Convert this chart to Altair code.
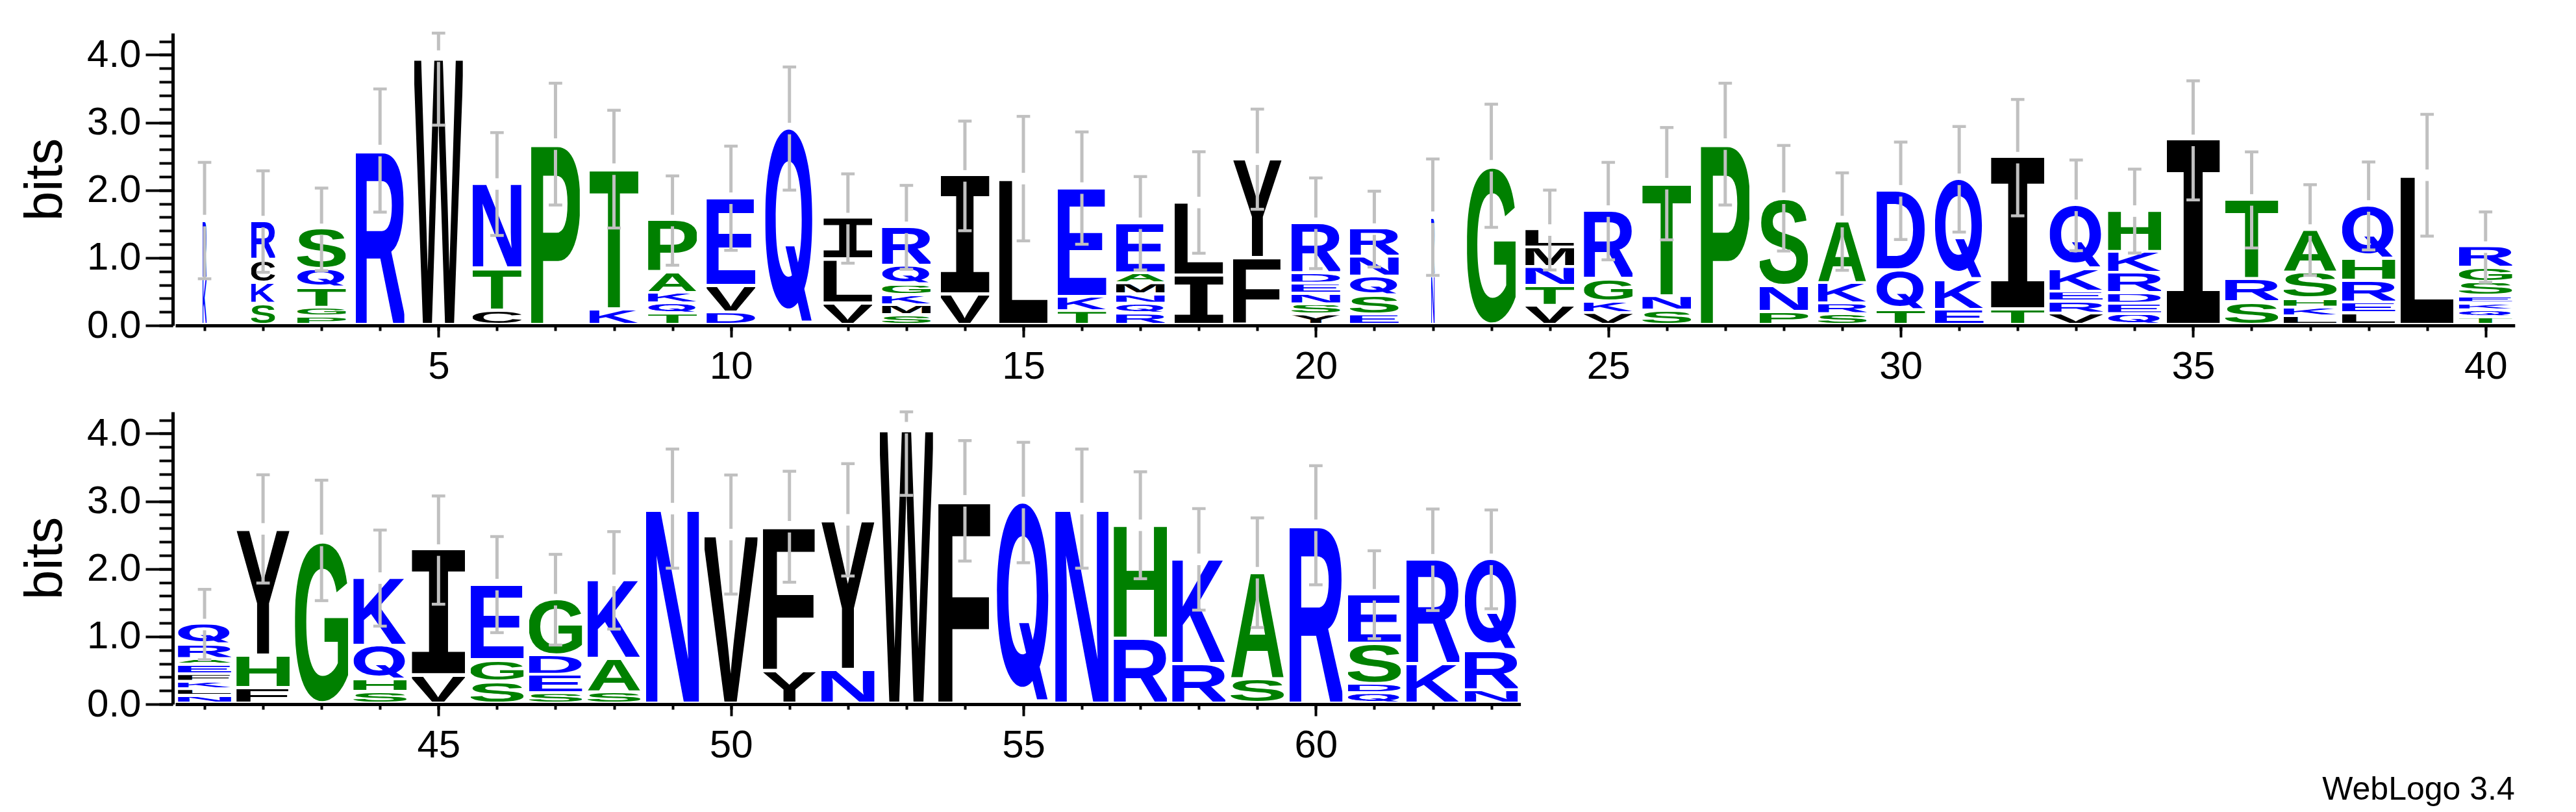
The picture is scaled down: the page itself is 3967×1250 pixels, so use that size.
import base64
import altair as alt
import pandas as pd

positions = list(range(1, 64))

# letters of each stack, bottom -> top
stack_letters = [
    "KR", "SKCR", "PGTQS", "R", "W", "CTN", "P", "KT", "TQKAP", "DVE",
    "Q", "VLI", "SMKGQR", "VI", "L", "TKE", "RQNMAE", "IL", "FY", "YSNEDR",
    "ESQNR", "NR", "G", "VTNML", "VKGR", "SNT", "P", "PNS", "SRKA", "TQD",
    "EKQ", "TI", "VREKQ", "QEDRKH", "I", "SRT", "LKHSA", "LERHQ", "L", "TQKESGR",
    "NLKFEARQ", "FHY", "G", "SHQK", "VI", "SGE", "SEDG", "SAK", "N", "V",
    "YF", "NY", "W", "F", "Q", "N", "RH", "RK", "SA", "R",
    "QDSE", "KR", "NRQ",
]

# information (bits) of each letter, bottom -> top
stack_heights = [
    [0.70, 0.85], [0.33, 0.31, 0.34, 0.555], [0.14, 0.13, 0.29, 0.28, 0.58], [2.585], [3.98],
    [0.23, 0.62, 1.24], [2.68], [0.25, 2.06], [0.18, 0.155, 0.155, 0.305, 0.755], [0.20, 0.39, 1.29],
    [2.91], [0.336, 0.649, 0.595], [0.16, 0.147, 0.148, 0.153, 0.282, 0.56], [0.47, 1.74], [2.17],
    [0.22, 0.21, 1.60], [0.18, 0.15, 0.14, 0.16, 0.15, 0.73], [0.745, 1.072], [1.006, 1.451],
    [0.17, 0.15, 0.156, 0.151, 0.153, 0.73],
    [0.17, 0.28, 0.28, 0.294, 0.40], [0.75, 0.85], [2.36], [0.30, 0.29, 0.28, 0.29, 0.25],
    [0.19, 0.17, 0.34, 0.99], [0.23, 0.21, 1.655], [2.68], [0.21, 0.38, 1.29],
    [0.176, 0.157, 0.302, 0.90], [0.232, 0.588, 1.17],
    [0.24, 0.44, 1.48], [0.248, 2.232], [0.184, 0.176, 0.147, 0.333, 0.935],
    [0.176, 0.154, 0.155, 0.302, 0.308, 0.595], [2.735], [0.355, 0.339, 1.161],
    [0.144, 0.128, 0.131, 0.384, 0.623], [0.187, 0.16, 0.32, 0.325, 0.774], [2.22],
    [0.128, 0.104, 0.107, 0.104, 0.205, 0.211, 0.299],
    [0.13, 0.098, 0.112, 0.11, 0.14, 0.085, 0.211, 0.291], [0.247, 0.481, 1.862], [2.42],
    [0.188, 0.184, 0.502, 0.989], [0.435, 1.842], [0.345, 0.314, 1.108], [0.17, 0.273, 0.287, 0.814],
    [0.183, 0.497, 1.15], [2.89], [2.507],
    [0.50, 2.122], [0.518, 2.206], [4.086], [3.005], [2.98], [2.89], [0.976, 1.668], [0.603, 1.537],
    [0.375, 1.568], [2.644],
    [0.17, 0.14, 0.593, 0.714], [0.60, 1.534], [0.215, 0.585, 1.34],
]

# half-length of the error bar of each stack (bits)
error_bars = [
    0.86, 0.75, 0.61, 0.91, 1.02, 0.76, 0.90, 0.87, 0.66, 0.77,
    0.91, 0.66, 0.62, 0.81, 0.92, 0.83, 0.69, 0.75, 0.74, 0.67,
    0.56, 0.86, 0.91, 0.59, 0.72, 0.83, 0.90, 0.78, 0.72, 0.72,
    0.78, 0.86, 0.67, 0.62, 0.88, 0.71, 0.67, 0.65, 0.90, 0.52,
    0.52, 0.80, 0.89, 0.71, 0.80, 0.71, 0.67, 0.72, 0.88, 0.88,
    0.82, 0.83, 1.00, 0.89, 0.89, 0.88, 0.79, 0.75, 0.81, 0.88,
    0.65, 0.75, 0.73,
]

# stack width (fraction of a column) = weight of non-gap symbols
column_weight = (
    [0.074, 0.41] + [0.83] * 19 + [0.065] + [0.83] * 9 + [0.907] * 9 + [0.907] * 23
)

top_positions = (1, 40)
bottom_positions = (41, 63)
x_labels_top = [5, 10, 15, 20, 25, 30, 35, 40]
x_labels_bottom = [45, 50, 55, 60]
y_labels = [0, 1, 2, 3, 4]
y_max = 4.32  # log2(20)
y_title = "bits"
footer = "WebLogo 3.4"

# ---------------- glyphs ----------------
BLUE, GREEN, BLACK = "#0000ff", "#008000", "#000000"


def letter_color(ch):
    if ch in "RKDENQ":
        return BLUE
    if ch in "SGHTAP":
        return GREEN
    return BLACK


# lsb, rsb, advance (1/1000 em), Helvetica-Bold-like metrics
GLYPH = {
    "A": (20, 20, 722), "C": (44, 38, 722), "D": (76, 37, 722), "E": (76, 46, 667),
    "F": (76, 24, 611), "G": (44, 65, 778), "H": (71, 71, 722), "K": (87, 0, 722),
    "L": (76, 28, 611), "M": (69, 68, 833), "N": (69, 68, 722), "P": (76, 40, 667),
    "R": (76, 45, 722), "S": (39, 38, 667), "T": (14, 13, 611),
    "V": (24, 14, 667), "W": (16, 15, 944), "Y": (15, 14, 667),
}


def glyph_url(ch):
    color = letter_color(ch)
    extra = ""
    if ch == "I":
        family, lsb, rsb, adv, top, bot = "DejaVu Sans Mono", 100, 100, 602, 729, 0
    elif ch == "Q":
        # Helvetica-like Q with a diagonal tail; advance forced to 780 units
        family, lsb, rsb, adv, top, bot = "Inter", 45, 30, 780, 742, 70
        extra = ' textLength="780" lengthAdjust="spacingAndGlyphs"'
    else:
        lsb, rsb, adv = GLYPH[ch]
        family, top, bot = "Liberation Sans", 700, 0
        if ch in "CGS":
            top, bot = 712, 12
    w = adv - lsb - rsb
    h = top + bot
    svg = (
        f'<svg xmlns="http://www.w3.org/2000/svg" width="{w}" height="{h}" '
        f'viewBox="{lsb} {-top} {w} {h}" preserveAspectRatio="none">'
        f'<text x="0" y="0" font-family="{family}" font-weight="bold" '
        f'font-size="1000" fill="{color}"{extra}>{ch}</text></svg>'
    )
    return "data:image/svg+xml;base64," + base64.b64encode(svg.encode()).decode()


# ---------------- tables ----------------
letter_rows, seg_rows, cap_rows = [], [], []
for pos, letters, heights, err, wt in zip(positions, stack_letters, stack_heights,
                                          error_bars, column_weight):
    base = 0.0
    n = len(letters)
    for i, (ch, h) in enumerate(zip(letters, heights)):
        lo = base + (0.038 if i == 0 else 0.02)
        hi = base + h - (0.0 if i == n - 1 else 0.02)
        letter_rows.append(dict(pos=pos, letter=ch, x0=pos - wt / 2, x1=pos + wt / 2,
                                lo=lo, hi=hi, url=glyph_url(ch)))
        base += h
    top = base
    e_hi = min(top + err, y_max)
    seg_rows.append(dict(pos=pos, a=top - err, b=top - 0.085))
    seg_rows.append(dict(pos=pos, a=top + 0.085, b=e_hi))
    cap_rows.append(dict(pos=pos, c0=pos - 0.115, c1=pos + 0.115, cy=top - err))
    cap_rows.append(dict(pos=pos, c0=pos - 0.115, c1=pos + 0.115, cy=e_hi))

letters_df = pd.DataFrame(letter_rows)
seg_df = pd.DataFrame(seg_rows)
cap_df = pd.DataFrame(cap_rows)

SLOT = 90.07
FONT = "Liberation Sans"
y_minor = [round(0.2 * k, 1) for k in range(22)]


def panel(first, last, major_vals):
    lo_x, hi_x = first - 0.5, last + 0.5
    width = (hi_x - lo_x) * SLOT
    xs = alt.Scale(domain=[lo_x, hi_x], nice=False, zero=False)
    ys = alt.Scale(domain=[0, y_max], nice=False, zero=True)
    sel = lambda df: df[(df.pos >= first) & (df.pos <= last)]

    minor_x = alt.Axis(orient="bottom", values=list(range(first, last + 1)), tickSize=8,
                       tickWidth=4, tickColor="black", labels=False, domain=True,
                       domainWidth=5, domainColor="black", grid=False, title=None)
    major_x = alt.Axis(orient="bottom", values=major_vals, tickSize=18, tickWidth=4,
                       tickColor="black", labelFontSize=60, labelFont=FONT,
                       labelColor="black", labelPadding=16, domain=False, grid=False,
                       title=None, labelFlush=False)
    minor_y = alt.Axis(orient="left", values=y_minor, tickSize=21, tickWidth=4,
                       tickColor="black", labels=False, domain=True, domainWidth=5,
                       domainColor="black", grid=False, title=None, offset=4)
    major_y = alt.Axis(orient="left", values=y_labels, tickSize=42, tickWidth=4,
                       tickColor="black", labelFontSize=60, labelFont=FONT,
                       labelColor="black", labelPadding=7, format=".1f", domain=False,
                       grid=False, offset=4, title=y_title, titleFont=FONT,
                       titleFontSize=82, titleFontWeight="normal", titleColor="black",
                       titlePadding=22)

    letters = alt.Chart(sel(letters_df)).mark_image(aspect=False).encode(
        x=alt.X("x0:Q", scale=xs, axis=minor_x),
        x2="x1:Q",
        y=alt.Y("lo:Q", scale=ys, axis=minor_y),
        y2="hi:Q",
        url="url:N",
    )
    segs = alt.Chart(sel(seg_df)).mark_rule(color="#c0c0c0", strokeWidth=5).encode(
        x=alt.X("pos:Q", scale=xs, axis=major_x),
        y=alt.Y("a:Q", scale=ys, axis=major_y),
        y2="b:Q",
    )
    caps = alt.Chart(sel(cap_df)).mark_rule(color="#c0c0c0", strokeWidth=4.5).encode(
        x=alt.X("c0:Q", scale=xs, axis=None),
        x2="c1:Q",
        y=alt.Y("cy:Q", scale=ys, axis=None),
    )
    return (
        alt.layer(letters, segs, caps)
        .resolve_axis(x="independent", y="independent")
        .properties(width=width, height=450)
    )


top_panel = panel(top_positions[0], top_positions[1], x_labels_top)
bottom_panel = panel(bottom_positions[0], bottom_positions[1], x_labels_bottom)

chart = (
    alt.vconcat(top_panel, bottom_panel, spacing=37)
    .properties(
        title=alt.TitleParams(footer, orient="bottom", anchor="end", fontSize=50,
                              font=FONT, fontWeight="normal", color="black", offset=14),
        padding={"left": 20, "top": 40, "right": 5, "bottom": 0},
    )
    .configure_view(stroke=None)
)

chart.save("out.html", embed_options={"renderer": "svg", "actions": False})
